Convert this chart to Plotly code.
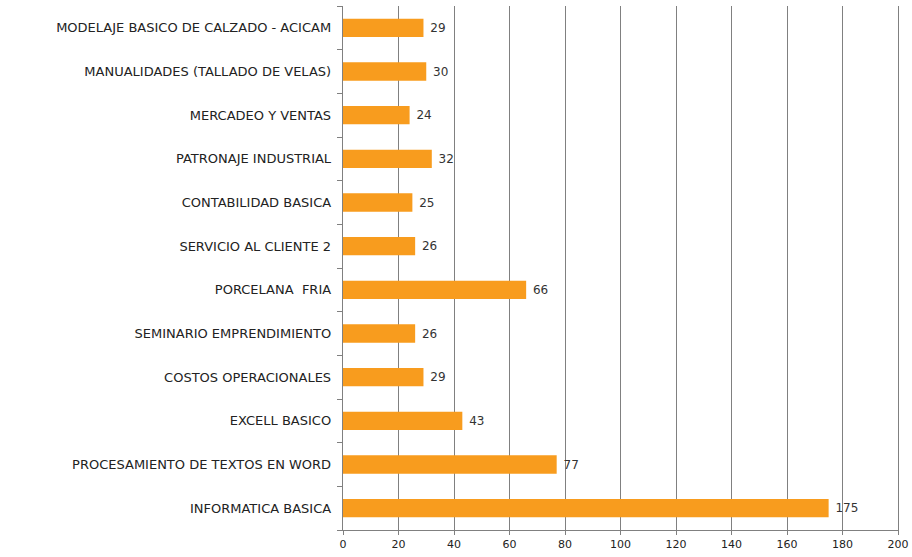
import plotly.graph_objects as go

categories = [
    "INFORMATICA BASICA",
    "PROCESAMIENTO DE TEXTOS EN WORD",
    "EXCELL BASICO",
    "COSTOS OPERACIONALES",
    "SEMINARIO EMPRENDIMIENTO",
    "PORCELANA  FRIA",
    "SERVICIO AL CLIENTE 2",
    "CONTABILIDAD BASICA",
    "PATRONAJE INDUSTRIAL",
    "MERCADEO Y VENTAS",
    "MANUALIDADES (TALLADO DE VELAS)",
    "MODELAJE BASICO DE CALZADO - ACICAM",
]
values = [175, 77, 43, 29, 26, 66, 26, 25, 32, 24, 30, 29]
x_ticks = [0, 20, 40, 60, 80, 100, 120, 140, 160, 180, 200]

FONT = "DejaVu Sans, Arial, sans-serif"

fig = go.Figure(go.Bar(
    y=categories, x=values, orientation="h",
    marker=dict(color="#F89C1E", line=dict(width=0)),
    width=0.42,
    texttemplate=" %{x}", textposition="outside",
    textfont=dict(size=12, color="#333333", family=FONT),
    cliponaxis=False,
))

fig.update_layout(
    width=912, height=557,
    margin=dict(l=343, r=14, t=6, b=27, autoexpand=False),
    plot_bgcolor="white", paper_bgcolor="white",
    font=dict(family=FONT, size=13, color="#222222"),
    showlegend=False,
    xaxis=dict(
        range=[0, 200], tickvals=x_ticks, showgrid=True, gridcolor="#808080", gridwidth=1,
        showline=True, linecolor="#808080", ticks="outside", ticklen=4, tickcolor="#808080",
        zeroline=False, mirror=False, automargin=False,
        tickfont=dict(size=11),
    ),
    yaxis=dict(
        type="category", categoryorder="array", categoryarray=categories,
        showline=True, linecolor="#808080", mirror=True,
        ticks="outside", ticklen=5, tickcolor="#808080",
        tickson="boundaries", showgrid=False, ticksuffix="  ", automargin=False,
    ),
)

fig.write_html(
    "out.html",
    config={"displayModeBar": False},
    post_script="document.body.style.margin='0';document.body.style.overflow='hidden';",
)
